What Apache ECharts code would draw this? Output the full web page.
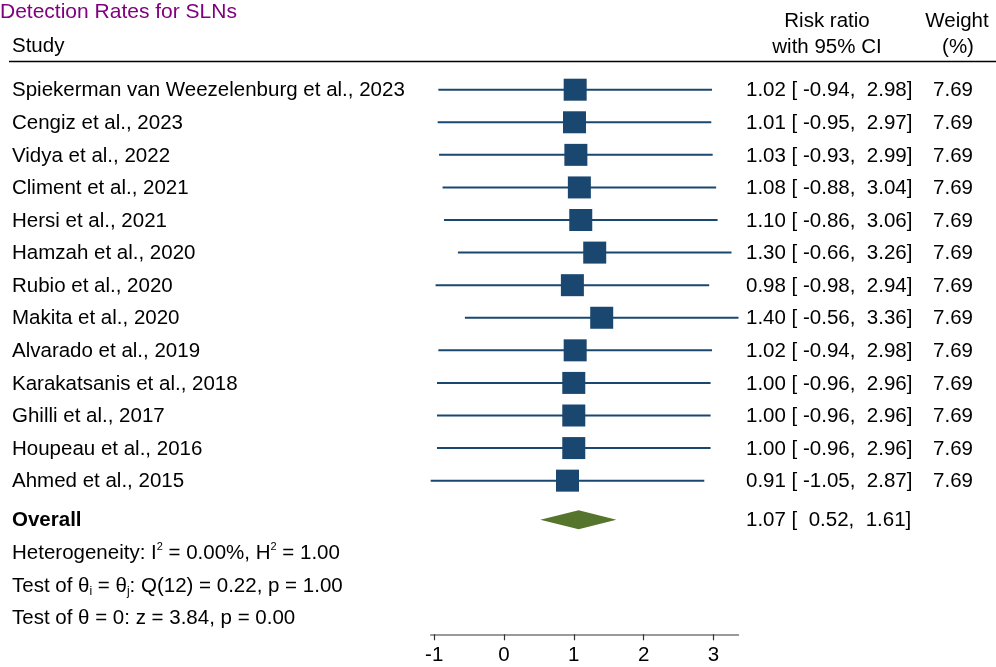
<!DOCTYPE html>
<html>
<head>
<meta charset="utf-8">
<script src="https://cdn.jsdelivr.net/npm/echarts@6/dist/echarts.min.js"></script>
<style>
  html, body { margin: 0; padding: 0; background: #ffffff; }
  #chart { width: 996px; height: 667px; }
</style>
</head>
<body>
<div id="chart"></div>
<script>
// Study rows of the meta-analysis
const studies = [
  'Spiekerman van Weezelenburg et al., 2023',
  'Cengiz et al., 2023',
  'Vidya et al., 2022',
  'Climent et al., 2021',
  'Hersi et al., 2021',
  'Hamzah et al., 2020',
  'Rubio et al., 2020',
  'Makita et al., 2020',
  'Alvarado et al., 2019',
  'Karakatsanis et al., 2018',
  'Ghilli et al., 2017',
  'Houpeau et al., 2016',
  'Ahmed et al., 2015'
];
const riskRatio = [1.02, 1.01, 1.03, 1.08, 1.10, 1.30, 0.98, 1.40, 1.02, 1.00, 1.00, 1.00, 0.91];
const ciLower   = [-0.94, -0.95, -0.93, -0.88, -0.86, -0.66, -0.98, -0.56, -0.94, -0.96, -0.96, -0.96, -1.05];
const ciUpper   = [2.98, 2.97, 2.99, 3.04, 3.06, 3.26, 2.94, 3.36, 2.98, 2.96, 2.96, 2.96, 2.87];
const weights   = [7.69, 7.69, 7.69, 7.69, 7.69, 7.69, 7.69, 7.69, 7.69, 7.69, 7.69, 7.69, 7.69];

// Pooled estimate
const overallRR = 1.07;
const overallLower = 0.52;
const overallUpper = 1.61;

// Axis ticks
const xTicks = [-1, 0, 1, 2, 3];

// Summary statistics lines (rich-text markup for super/subscripts)
const statsLines = [
  'Heterogeneity: I{sup|2} = 0.00%, H{sup|2} = 1.00',
  'Test of θ{sub|i} = θ{sub|j}: Q(12) = 0.22, p = 1.00',
  'Test of θ = 0: z = 3.84, p = 0.00'
];

const FONT = "'Liberation Sans', Arial, Helvetica, sans-serif";
const FS = 20.5;
const NAVY = '#1a476f';
const GREEN = '#56752c';

// row positions on the (inverted) y scale
const overallRow = studies.length + 0.2;
const statsRow0 = overallRow + 1;

function fmt6(v) {
  const s = v.toFixed(2);
  return ' '.repeat(Math.max(0, 6 - s.length)) + s;
}
function ciText(est, lo, hi) {
  return est.toFixed(2) + ' [' + fmt6(lo) + ',' + fmt6(hi) + ']';
}

const studyRows = studies.map((name, i) => [i, riskRatio[i], ciLower[i], ciUpper[i], weights[i]]);

const chart = echarts.init(document.getElementById('chart'), null, { renderer: 'canvas' });

const textStyleBase = { fontFamily: FONT, fontSize: FS, fill: '#000' };

function headerText(text, x, y) {
  return { type: 'text', x: x, y: y, style: Object.assign({ text: text, align: 'center', verticalAlign: 'middle' }, textStyleBase) };
}

chart.setOption({
  animation: false,
  backgroundColor: '#ffffff',
  title: {
    text: 'Detection Rates for SLNs',
    left: 0,
    top: 2,
    padding: 0,
    textStyle: { color: '#800080', fontFamily: FONT, fontSize: 21, fontWeight: 'normal' }
  },
  grid: {
    left: 430.7,
    width: 307.8,
    top: 40.83,
    bottom: 32.7,
    containLabel: false
  },
  xAxis: {
    type: 'value',
    min: -1.05,
    max: 3.36,
    axisLine: { show: true, onZero: false, lineStyle: { color: '#7a7a7a', width: 1.5 } },
    axisTick: { show: true, length: 6, customValues: xTicks, lineStyle: { color: '#333', width: 1.2 } },
    axisLabel: {
      customValues: xTicks,
      margin: 11,
      color: '#000',
      fontFamily: FONT,
      fontSize: FS,
      formatter: v => String(v)
    },
    splitLine: { show: false }
  },
  yAxis: {
    type: 'value',
    inverse: true,
    min: -1.5,
    max: 16.716,
    show: false
  },
  graphic: [
    { type: 'text', x: 12, y: 46, style: Object.assign({ text: 'Study', align: 'left', verticalAlign: 'middle' }, textStyleBase) },
    headerText('Risk ratio', 827, 21),
    headerText('with 95% CI', 827, 47),
    headerText('Weight', 957, 21),
    headerText('(%)', 958, 47),
    { type: 'line', shape: { x1: 9, y1: 61.5, x2: 996, y2: 61.5 }, style: { stroke: '#000', lineWidth: 1.5 } }
  ],
  series: [
    // confidence interval whiskers
    {
      type: 'custom',
      data: studyRows,
      encode: { x: [2, 3], y: 0 },
      renderItem: function (params, api) {
        const row = api.value(0);
        const p1 = api.coord([api.value(2), row]);
        const p2 = api.coord([api.value(3), row]);
        return {
          type: 'line',
          shape: { x1: p1[0], y1: p1[1], x2: p2[0], y2: p2[1] },
          style: { stroke: NAVY, lineWidth: 2 }
        };
      },
      z: 2
    },
    // point estimates
    {
      type: 'scatter',
      data: studyRows.map(r => [r[1], r[0]]),
      symbol: 'rect',
      symbolSize: [23, 22],
      itemStyle: { color: NAVY, opacity: 1 },
      z: 3
    },
    // pooled diamond
    {
      type: 'custom',
      data: [[overallRow, overallRR, overallLower, overallUpper]],
      encode: { x: [2, 3], y: 0 },
      renderItem: function (params, api) {
        const row = api.value(0);
        const c = api.coord([api.value(1), row]);
        const l = api.coord([api.value(2), row]);
        const r = api.coord([api.value(3), row]);
        const h = 9.5;
        return {
          type: 'polygon',
          shape: { points: [[l[0], c[1]], [c[0], c[1] - h], [r[0], c[1]], [c[0], c[1] + h]] },
          style: { fill: GREEN }
        };
      },
      z: 3
    },
    // text columns for each study
    {
      type: 'custom',
      data: studyRows,
      encode: { y: 0 },
      clip: false,
      renderItem: function (params, api) {
        const i = api.value(0);
        const y = api.coord([0, i])[1] + 1;
        return {
          type: 'group',
          children: [
            { type: 'text', x: 12, y: y, style: Object.assign({ text: studies[i], align: 'left', verticalAlign: 'middle' }, textStyleBase) },
            { type: 'text', x: 746, y: y, style: Object.assign({ text: ciText(api.value(1), api.value(2), api.value(3)), align: 'left', verticalAlign: 'middle' }, textStyleBase) },
            { type: 'text', x: 973, y: y, style: Object.assign({ text: api.value(4).toFixed(2), align: 'right', verticalAlign: 'middle' }, textStyleBase) }
          ]
        };
      },
      z: 5
    },
    // pooled row text and summary statistics
    {
      type: 'custom',
      data: [[overallRow]],
      encode: { y: 0 },
      clip: false,
      renderItem: function (params, api) {
        const y = api.coord([0, overallRow])[1] + 1;
        const children = [
          { type: 'text', x: 12, y: y, style: Object.assign({ text: 'Overall', align: 'left', verticalAlign: 'middle' }, textStyleBase, { fontWeight: 'bold' }) },
          { type: 'text', x: 746, y: y, style: Object.assign({ text: ciText(overallRR, overallLower, overallUpper), align: 'left', verticalAlign: 'middle' }, textStyleBase) }
        ];
        statsLines.forEach(function (line, k) {
          const ys = api.coord([0, statsRow0 + k])[1] + 1;
          children.push({
            type: 'text', x: 12, y: ys,
            style: Object.assign({
              text: line, align: 'left', verticalAlign: 'middle',
              rich: {
                sup: { fontFamily: FONT, fontSize: 11, verticalAlign: 'top', fill: '#000', lineHeight: 24 },
                sub: { fontFamily: FONT, fontSize: 12, verticalAlign: 'bottom', fill: '#000', lineHeight: 24 }
              }
            }, textStyleBase, { lineHeight: 24 })
          });
        });
        return { type: 'group', children: children };
      },
      z: 5
    }
  ]
});
</script>
</body>
</html>
